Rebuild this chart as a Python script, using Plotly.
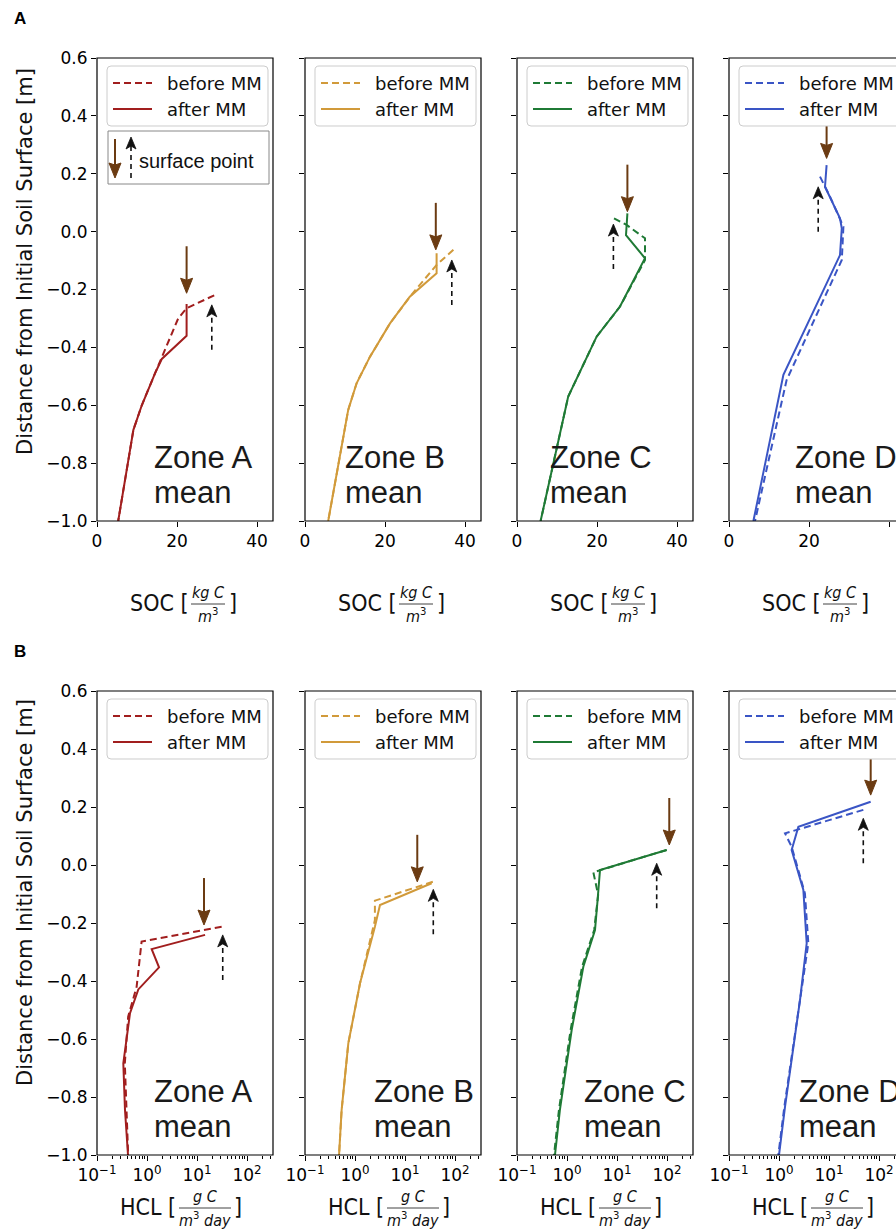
import plotly.graph_objects as go

W, H = 896, 1230

# ---------------- data ----------------
zone_names = ["Zone A", "Zone B", "Zone C", "Zone D"]
zone_colors = ["#a11e1e", "#d19a3a", "#1f7a35", "#3a55c5"]
arrow_brown = "#6b3b12"

y_ticks = [-1.0, -0.8, -0.6, -0.4, -0.2, 0.0, 0.2, 0.4, 0.6]
y_ticktext = ["\u22121.0", "\u22120.8", "\u22120.6", "\u22120.4", "\u22120.2", "0.0", "0.2", "0.4", "0.6"]
soc_ticks = [0, 20, 40]
hcl_ticks = [0.1, 1, 10, 100]
hcl_ticktext = ["10<sup>\u22121</sup>", "10<sup>0</sup>", "10<sup>1</sup>", "10<sup>2</sup>"]
hcl_minor = [m * 10.0 ** e for e in (-1, 0, 1, 2) for m in range(2, 10)]

# SOC profiles (panel A)
soc_after_A_x = [22.4, 22.4, 16.2, 14.5, 11.2, 9.1, 5.3]
soc_after_A_d = [-0.25, -0.36, -0.44, -0.49, -0.60, -0.685, -1.0]
soc_before_A_x = [29.3, 22.4, 20.3, 16.2, 14.5, 11.2, 9.1, 5.3]
soc_before_A_d = [-0.22, -0.265, -0.30, -0.43, -0.49, -0.60, -0.685, -1.0]

soc_after_B_x = [32.9, 32.9, 26.2, 21.25, 16.25, 12.9, 10.8, 5.8]
soc_after_B_d = [-0.075, -0.144, -0.225, -0.317, -0.432, -0.524, -0.616, -1.0]
soc_before_B_x = [37.1, 32.9, 26.4, 21.25, 16.25, 12.9, 10.8, 5.8]
soc_before_B_d = [-0.063, -0.115, -0.222, -0.317, -0.432, -0.524, -0.616, -1.0]

soc_after_C_x = [27.6, 27.25, 32.0, 25.75, 19.9, 12.8, 5.9]
soc_after_C_d = [0.063, -0.012, -0.092, -0.259, -0.363, -0.57, -1.0]
soc_before_C_x = [24.25, 27.4, 32.0, 32.0, 25.75, 19.9, 12.8, 5.9]
soc_before_C_d = [0.046, 0.023, -0.023, -0.098, -0.259, -0.363, -0.57, -1.0]

soc_after_D_x = [24.4, 24.0, 27.75, 28.2, 27.75, 13.6, 6.1]
soc_after_D_d = [0.23, 0.155, 0.046, 0.011, -0.081, -0.495, -1.0]
soc_before_D_x = [22.75, 25.25, 28.6, 28.2, 14.4, 6.5]
soc_before_D_d = [0.19, 0.121, 0.017, -0.098, -0.513, -1.0]

# HCL profiles (panel B)
hcl_after_A_x = [14.5, 1.24, 1.74, 0.67, 0.457, 0.336, 0.363, 0.417]
hcl_after_A_d = [-0.241, -0.29, -0.353, -0.429, -0.511, -0.684, -0.845, -1.0]
hcl_before_A_x = [31.1, 0.78, 0.62, 0.42, 0.36, 0.39, 0.42]
hcl_before_A_d = [-0.213, -0.264, -0.42, -0.523, -0.684, -0.845, -1.0]

hcl_after_B_x = [34.1, 3.16, 2.5, 1.26, 0.735, 0.54, 0.48]
hcl_after_B_d = [-0.063, -0.138, -0.213, -0.408, -0.615, -0.845, -1.0]
hcl_before_B_x = [36.0, 2.5, 2.5, 1.26, 0.735, 0.54, 0.48]
hcl_before_B_d = [-0.058, -0.123, -0.19, -0.408, -0.615, -0.845, -1.0]

hcl_after_C_x = [98.5, 4.57, 4.04, 3.63, 2.12, 1.24, 0.72, 0.575]
hcl_after_C_d = [0.052, -0.017, -0.132, -0.224, -0.351, -0.569, -0.845, -1.0]
hcl_before_C_x = [98.5, 3.36, 4.2, 3.5, 2.0, 1.18, 0.69, 0.55]
hcl_before_C_d = [0.052, -0.025, -0.103, -0.224, -0.351, -0.569, -0.845, -1.0]

hcl_after_D_x = [68.1, 2.44, 1.79, 3.07, 3.58, 2.63, 1.32, 1.0]
hcl_after_D_d = [0.218, 0.132, 0.052, -0.086, -0.27, -0.466, -0.833, -1.0]
hcl_before_D_x = [48.6, 1.32, 1.79, 3.3, 3.86, 2.6, 1.28, 0.97]
hcl_before_D_d = [0.19, 0.109, 0.063, -0.098, -0.27, -0.466, -0.833, -1.0]

# surface points marked by arrows (brown: after MM, black dashed: before MM)
soc_surf_after_x = [22.4, 32.7, 27.6, 24.4]
soc_surf_after_d = [-0.213, -0.063, 0.069, 0.253]
soc_surf_before_x = [28.7, 36.7, 24.1, 22.3]
soc_surf_before_d = [-0.253, -0.098, 0.026, 0.155]
hcl_surf_after_x = [13.8, 17.6, 111.0, 68.2]
hcl_surf_after_d = [-0.207, -0.058, 0.069, 0.241]
hcl_surf_before_x = [32.7, 36.8, 62.2, 48.5]
hcl_surf_before_d = [-0.241, -0.084, 0.006, 0.161]

soc_after = [(soc_after_A_x, soc_after_A_d), (soc_after_B_x, soc_after_B_d),
             (soc_after_C_x, soc_after_C_d), (soc_after_D_x, soc_after_D_d)]
soc_before = [(soc_before_A_x, soc_before_A_d), (soc_before_B_x, soc_before_B_d),
              (soc_before_C_x, soc_before_C_d), (soc_before_D_x, soc_before_D_d)]
hcl_after = [(hcl_after_A_x, hcl_after_A_d), (hcl_after_B_x, hcl_after_B_d),
             (hcl_after_C_x, hcl_after_C_d), (hcl_after_D_x, hcl_after_D_d)]
hcl_before = [(hcl_before_A_x, hcl_before_A_d), (hcl_before_B_x, hcl_before_B_d),
              (hcl_before_C_x, hcl_before_C_d), (hcl_before_D_x, hcl_before_D_d)]

# ---------------- layout geometry (pixels) ----------------
panel_left = [97, 305, 517, 729]
panel_w = 176
row_top = [58, 691]
row_bot = [521, 1155]
soc_span = 44.0            # x-range of a full SOC panel
hcl_span = (-1.0, 2.52)    # log10 range of a full HCL panel
zone_label_off = [[55, 38, 31, 64], [55, 67, 65, 68]]

FONT = "DejaVu Sans"
ZFONT = "Liberation Sans, Arial"
CFONT = "DejaVu Sans Condensed, Liberation Sans Narrow, DejaVu Sans"


def px(x):
    return x / W


def py(y):
    return 1 - y / H


fig = go.Figure()
layout = dict(width=W, height=H, margin=dict(l=0, r=0, t=0, b=0, autoexpand=False),
              paper_bgcolor="white", plot_bgcolor="white", showlegend=False)
shapes = []
annotations = []
dash_line = "7px,4px"


def arrow_down(xref, yref, x, y, length=47):
    shapes.append(dict(type="line", xref=xref, yref=yref, xsizemode="pixel", ysizemode="pixel",
                       xanchor=x, yanchor=y, x0=0, x1=0, y0=length, y1=12,
                       line=dict(color=arrow_brown, width=2)))
    shapes.append(dict(type="path", xref=xref, yref=yref, xsizemode="pixel", ysizemode="pixel",
                       xanchor=x, yanchor=y, path="M -6,15 L 0,13 L 6,15 L 0,0 Z",
                       fillcolor=arrow_brown, line=dict(color=arrow_brown, width=1)))


def arrow_up(xref, yref, x, y, length=45):
    shapes.append(dict(type="line", xref=xref, yref=yref, xsizemode="pixel", ysizemode="pixel",
                       xanchor=x, yanchor=y, x0=0, x1=0, y0=-length, y1=-9,
                       line=dict(color="#111111", width=1.6, dash="5px,4px")))
    shapes.append(dict(type="path", xref=xref, yref=yref, xsizemode="pixel", ysizemode="pixel",
                       xanchor=x, yanchor=y, path="M -5,-12 L 0,0 L 5,-12 L 0,-9 Z",
                       fillcolor="#111111", line=dict(color="#111111", width=0.8)))


def rounded_rect(x0, y0, x1, y1, r=4):
    X = lambda v: f"{px(v):.6f}"
    Y = lambda v: f"{py(v):.6f}"
    return (f"M {X(x0 + r)},{Y(y0)} L {X(x1 - r)},{Y(y0)} Q {X(x1)},{Y(y0)} {X(x1)},{Y(y0 + r)} "
            f"L {X(x1)},{Y(y1 - r)} Q {X(x1)},{Y(y1)} {X(x1 - r)},{Y(y1)} "
            f"L {X(x0 + r)},{Y(y1)} Q {X(x0)},{Y(y1)} {X(x0)},{Y(y1 - r)} "
            f"L {X(x0)},{Y(y0 + r)} Q {X(x0)},{Y(y0)} {X(x0 + r)},{Y(y0)} Z")


for r in range(2):
    for i in range(4):
        k = r * 4 + i + 1
        sfx = "" if k == 1 else str(k)
        left = panel_left[i]
        right = min(left + panel_w, W)
        frac = (right - left) / panel_w
        top, bot = row_top[r], row_bot[r]
        xa = dict(domain=[px(left), px(right)], anchor="y" + sfx,
                  ticks="outside", ticklen=5, tickwidth=1, tickcolor="black",
                  showgrid=False, zeroline=False, showline=False,
                  tickfont=dict(family=FONT, size=17, color="black"))
        if r == 0:
            xa.update(type="linear", range=[0, soc_span * frac], tickvals=soc_ticks,
                      ticktext=[str(t) for t in soc_ticks])
        else:
            xa.update(type="log", range=[hcl_span[0], hcl_span[0] + (hcl_span[1] - hcl_span[0]) * frac],
                      tickvals=hcl_ticks, ticktext=hcl_ticktext,
                      minor=dict(ticks="outside", ticklen=3, tickwidth=1, tickcolor="black",
                                 tickvals=hcl_minor, showgrid=False))
        ya = dict(domain=[py(bot), py(top)], anchor="x" + sfx, range=[-1.0, 0.6],
                  tickvals=y_ticks, ticktext=y_ticktext, ticks="outside", ticklen=5,
                  tickwidth=1, tickcolor="black", showgrid=False, zeroline=False,
                  showline=False, showticklabels=(i == 0),
                  tickfont=dict(family=FONT, size=17, color="black"))
        layout["xaxis" + sfx] = xa
        layout["yaxis" + sfx] = ya

        before = soc_before[i] if r == 0 else hcl_before[i]
        after = soc_after[i] if r == 0 else hcl_after[i]
        col = zone_colors[i]
        fig.add_trace(go.Scatter(x=before[0], y=before[1], mode="lines",
                                 line=dict(color=col, width=2, dash=dash_line),
                                 xaxis="x" + sfx, yaxis="y" + sfx, name="before MM"))
        fig.add_trace(go.Scatter(x=after[0], y=after[1], mode="lines",
                                 line=dict(color=col, width=2),
                                 xaxis="x" + sfx, yaxis="y" + sfx, name="after MM"))

        if r == 0:
            ax_, ay_ = soc_surf_after_x[i], soc_surf_after_d[i]
            bx_, by_ = soc_surf_before_x[i], soc_surf_before_d[i]
        else:
            ax_, ay_ = hcl_surf_after_x[i], hcl_surf_after_d[i]
            bx_, by_ = hcl_surf_before_x[i], hcl_surf_before_d[i]
        arrow_down("x" + sfx, "y" + sfx, ax_, ay_)
        arrow_up("x" + sfx, "y" + sfx, bx_, by_)

        shapes.append(dict(type="rect", xref="x" + sfx + " domain", yref="y" + sfx + " domain",
                           x0=0, x1=1 if right - left == panel_w else 1.2, y0=0, y1=1,
                           line=dict(color="black", width=1.2), fillcolor="rgba(0,0,0,0)"))

        shapes.append(dict(type="path", xref="paper", yref="paper",
                           path=rounded_rect(left + 10, top + 8, left + 171, top + 68),
                           fillcolor="white", line=dict(color="#cccccc", width=1)))
        for j, (lab, dsh, yy) in enumerate([("before MM", dash_line, top + 25), ("after MM", "solid", top + 51)]):
            shapes.append(dict(type="line", xref="paper", yref="paper",
                               x0=px(left + 16), x1=px(left + 55), y0=py(yy), y1=py(yy),
                               line=dict(color=col, width=2, dash=dsh)))
            annotations.append(dict(xref="paper", yref="paper", x=px(left + 68), y=py(yy),
                                    text=lab, showarrow=False, xanchor="left", yanchor="middle",
                                    font=dict(family=FONT, size=18, color="#111111")))

        lx = px(left + zone_label_off[r][i])
        annotations.append(dict(xref="paper", yref="paper", x=lx, y=py(bot - 64), text=zone_names[i],
                                showarrow=False, xanchor="left", yanchor="middle",
                                font=dict(family=ZFONT, size=31, color="#1a1a1a")))
        annotations.append(dict(xref="paper", yref="paper", x=lx, y=py(bot - 29), text="mean",
                                showarrow=False, xanchor="left", yanchor="middle",
                                font=dict(family=ZFONT, size=31, color="#1a1a1a")))

        c = left + panel_w / 2
        if r == 0:
            ty = 603
            annotations.append(dict(xref="paper", yref="paper", x=px(c + 6), y=py(ty), text="SOC [",
                                    showarrow=False, xanchor="right", yanchor="middle",
                                    font=dict(family=CFONT, size=23, color="#111111")))
            fc, fw = c + 23, 34
            num, den = "<i>kg C</i>", "<i>m</i><sup>3</sup>"
            rb = c + 42
        else:
            ty = 1207
            annotations.append(dict(xref="paper", yref="paper", x=px(c - 7), y=py(ty), text="HCL [",
                                    showarrow=False, xanchor="right", yanchor="middle",
                                    font=dict(family=CFONT, size=23, color="#111111")))
            fc, fw = c + 20, 52
            num, den = "<i>g C</i>", "<i>m</i><sup>3</sup><i> day</i>"
            rb = c + 47
        annotations.append(dict(xref="paper", yref="paper", x=px(fc), y=py(ty - 11), text=num,
                                showarrow=False, xanchor="center", yanchor="middle",
                                font=dict(family=CFONT, size=16, color="#111111")))
        annotations.append(dict(xref="paper", yref="paper", x=px(fc), y=py(ty + 12), text=den,
                                showarrow=False, xanchor="center", yanchor="middle",
                                font=dict(family=CFONT, size=16, color="#111111")))
        shapes.append(dict(type="line", xref="paper", yref="paper", x0=px(fc - fw / 2), x1=px(fc + fw / 2),
                           y0=py(ty + 1), y1=py(ty + 1), line=dict(color="#111111", width=0.8)))
        annotations.append(dict(xref="paper", yref="paper", x=px(rb), y=py(ty), text="]",
                                showarrow=False, xanchor="left", yanchor="middle",
                                font=dict(family=CFONT, size=23, color="#111111")))

    annotations.append(dict(xref="paper", yref="paper", x=px(25), y=py(row_top[r] + 204 if r == 0 else row_top[r] + 202),
                            text="Distance from Initial Soil Surface [m]", textangle=-90,
                            showarrow=False, xanchor="center", yanchor="middle",
                            font=dict(family=FONT, size=21, color="#111111")))

L0, T0 = panel_left[0], row_top[0]
shapes.append(dict(type="rect", xref="paper", yref="paper", x0=px(L0 + 11), x1=px(L0 + 172),
                   y0=py(T0 + 73), y1=py(T0 + 126), fillcolor="white", line=dict(color="#888888", width=1)))
arrow_down("paper", "paper", px(L0 + 18), py(T0 + 120), length=39)
arrow_up("paper", "paper", px(L0 + 34), py(T0 + 79), length=41)
annotations.append(dict(xref="paper", yref="paper", x=px(L0 + 40), y=py(T0 + 103), text="surface point",
                        showarrow=False, xanchor="left", yanchor="middle",
                        font=dict(family=ZFONT, size=20, color="#111111")))

annotations.append(dict(xref="paper", yref="paper", x=px(12), y=py(18), text="<b>A</b>", showarrow=False,
                        xanchor="left", yanchor="middle", font=dict(family=ZFONT, size=17, color="black")))
annotations.append(dict(xref="paper", yref="paper", x=px(12), y=py(652), text="<b>B</b>", showarrow=False,
                        xanchor="left", yanchor="middle", font=dict(family=ZFONT, size=17, color="black")))

layout["shapes"] = shapes
layout["annotations"] = annotations
fig.update_layout(**layout)
fig.write_html("out.html", config={"displayModeBar": False},
               post_script="document.body.style.margin='0';document.body.style.overflow='hidden';")
